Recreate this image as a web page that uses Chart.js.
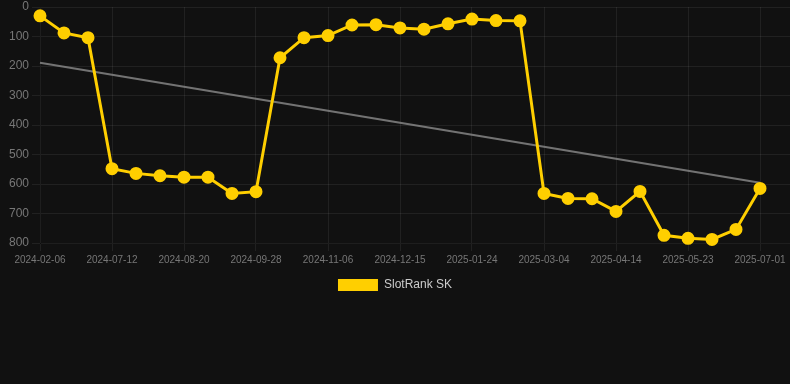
<!DOCTYPE html>
<html>
<head>
<meta charset="utf-8">
<script src="https://cdn.jsdelivr.net/npm/chart.js@4"></script>
<style>
  html, body { margin: 0; padding: 0; background: #111111; }
  #wrap { width: 790px; height: 301px; }
</style>
</head>
<body>
<div id="wrap"><canvas id="RankChart"></canvas></div>
<script>
// dates under each point (only every third one is shown on the axis)
const dates = [
  '2024-02-06', '2024-03-30', '2024-05-22', '2024-07-12', '2024-07-25', '2024-08-07',
  '2024-08-20', '2024-09-02', '2024-09-15', '2024-09-28', '2024-10-11', '2024-10-24',
  '2024-11-06', '2024-11-19', '2024-12-02', '2024-12-15', '2024-12-28', '2025-01-10',
  '2025-01-24', '2025-02-06', '2025-02-19', '2025-03-04', '2025-03-18', '2025-03-31',
  '2025-04-14', '2025-04-27', '2025-05-10', '2025-05-23', '2025-06-05', '2025-06-18',
  '2025-07-01'
];
const rankSK = [
  30, 88, 104, 548, 564, 572, 577, 577, 632, 626,
  172, 104, 97, 61, 60, 71, 75, 57, 41, 46,
  47, 632, 649, 650, 693, 625, 774, 784, 788, 754,
  615
];
// trend line: only its two ends are known, the gap is spanned
const trendEnds = [189, 596];
const yTicks = [0, 100, 200, 300, 400, 500, 600, 700, 800];

window.onload = function() {
  const ctx = document.getElementById('RankChart').getContext('2d');
  Chart.defaults.font.family = 'Arial, "Liberation Sans", sans-serif';

  const mainPoints = rankSK.map((v, i) => ({ x: i, y: v }));
  const trendPoints = [
    { x: 0, y: trendEnds[0] },
    { x: rankSK.length - 1, y: trendEnds[1] }
  ];

  const config = {
    type: 'line',
    data: {
      datasets: [{
        label: 'SlotRank SK',
        data: mainPoints,
        borderColor: '#ffcf00',
        backgroundColor: '#ffcf00',
        borderWidth: 3,
        pointRadius: 5,
        pointHoverRadius: 6,
        tension: 0,
        clip: false,
        order: 1
      }, {
        label: 'trend',
        data: trendPoints,
        borderColor: 'rgba(140,140,140,0.8)',
        borderWidth: 2,
        pointRadius: 0,
        tension: 0,
        clip: false,
        order: 2
      }]
    },
    options: {
      responsive: true,
      maintainAspectRatio: false,
      animation: false,
      layout: { padding: 0, autoPadding: false },
      scales: {
        x: {
          type: 'linear',
          min: 0,
          max: 31.25,
          grid: { color: 'rgba(255,255,255,0.07)' },
          afterFit: function(axis) {
            axis.paddingLeft = 0;
            axis.paddingRight = 0;
          },
          ticks: {
            stepSize: 3,
            includeBounds: false,
            autoSkip: false,
            maxRotation: 0,
            color: '#777',
            font: { size: 10 },
            callback: function(value) {
              return Number.isInteger(value) && dates[value] ? dates[value] : null;
            }
          }
        },
        y: {
          reverse: true,
          min: yTicks[0],
          max: yTicks[yTicks.length - 1],
          grid: { color: 'rgba(255,255,255,0.07)' },
          afterBuildTicks: function(axis) {
            axis.ticks = yTicks.map(v => ({ value: v }));
          },
          afterFit: function(axis) {
            axis.width = 40;
            axis.paddingTop = 7;
            axis.paddingBottom = 0;
          },
          ticks: {
            color: '#777',
            font: { size: 12 }
          }
        }
      },
      plugins: {
        legend: {
          position: 'bottom',
          labels: {
            color: '#ccc',
            font: { size: 12 },
            generateLabels: function(chart) {
              const items = Chart.defaults.plugins.legend.labels.generateLabels(chart);
              return items
                .filter(item => item.text !== 'trend')
                .map(item => Object.assign(item, { lineWidth: 0 }));
            }
          }
        },
        tooltip: { enabled: true }
      }
    }
  };

  const rankChart = new Chart(ctx, config);
};
</script>
</body>
</html>
